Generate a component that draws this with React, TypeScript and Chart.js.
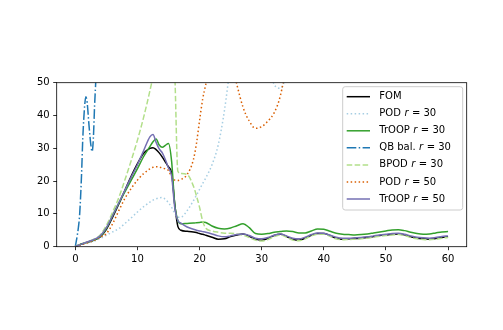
import React, { useEffect, useRef } from 'react';
import { Chart, registerables } from 'chart.js';

Chart.register(...registerables);

// shared time axis for the main series
const time = [
  0, 1, 2, 3, 4, 5, 6, 7, 8, 9, 10, 11, 12,
  12.5, 13, 13.5, 14, 14.5, 15, 15.5, 16, 16.5, 17,
  18, 19, 19.5, 20, 20.5, 21,
  22, 23, 24, 25, 26, 27, 28, 29, 30, 31, 32, 33, 34, 35, 36, 37, 38, 39, 40, 41,
  42, 43, 44, 45, 46, 47, 48, 49, 50, 51, 52, 53, 54, 55, 56, 57, 58, 59, 60,
];

const fomValues = [
  0, 0.8, 1.4, 2.0, 3.0, 5.3, 9.0, 13.0, 17.3, 21.5, 25.3, 28.5, 30.0,
  30.2, 29.6, 28.6, 27.3, 25.8, 24.3, 22.5, 13.0, 6.2, 5.0,
  4.7, 4.5, 4.3, 4.0, 3.8, 3.5,
  2.9, 2.3, 2.4, 3.1, 3.6, 3.9, 3.2, 2.3, 2.0, 2.5, 3.4, 3.8, 3.1, 2.3, 2.0, 2.6, 3.5, 4.0, 4.0, 3.4,
  2.6, 2.3, 2.4, 2.5, 2.6, 2.8, 3.1, 3.4, 3.6, 3.8, 3.9, 3.6, 3.0, 2.6, 2.4, 2.3, 2.5, 2.8, 3.0,
];

const pod30Values = [
  0, 0.6, 1.1, 1.7, 2.5, 3.5, 4.5, 5.5, 7.1, 8.8, 10.6, 12.2, 13.6,
  14.2, 14.6, 14.9, 15.0, 14.4, 13.4, 12.0, 10.2, 9.0, 9.0,
  11.0, 14.0, 15.7, 17.5, 19.3, 21.0,
  25.0, 31.0, 41.5, 56, 70, 78, 80, 78, 70, 57, 49.5, 48.3, 53, 65,
];

const troop30Values = [
  0, 0.8, 1.4, 2.0, 3.1, 5.6, 9.5, 13.3, 16.8, 20.3, 23.8, 27.5, 30.5,
  32.0, 32.8, 31.0, 30.3, 30.9, 31.5, 26.0, 13.0, 8.0, 7.0,
  7.1, 7.2, 7.3, 7.4, 7.5, 7.4,
  6.3, 5.6, 5.4, 5.7, 6.4, 7.0, 5.8, 4.0, 3.8, 4.0, 4.4, 4.6, 4.8, 4.6, 4.2, 4.2, 4.8, 5.4, 5.3, 4.7,
  4.1, 3.8, 3.7, 3.6, 3.7, 3.9, 4.2, 4.5, 4.8, 5.1, 5.2, 4.9, 4.4, 4.0, 3.8, 3.9, 4.2, 4.5, 4.6,
];

const qbTime = [0, 0.5, 0.7, 1.0, 1.2, 1.5, 1.7, 1.9, 2.2, 2.5, 2.7, 2.9, 3.1, 3.3, 3.5];
const qbValues = [0, 6, 10, 22, 33, 43, 45.7, 44, 37, 31, 29, 33, 43, 51, 62];

const bpodValues = [
  0, 0.8, 1.5, 2.3, 3.6, 6.5, 10.5, 15.0, 20.5, 26.3, 32.5, 39.5, 47.5,
  52, 58, 65, 70, 72, 70, 64, 53, 23.0, 22.3,
  22.0, 18.5, 15.5, 12.0, 7.8, 5.6,
  4.8, 4.4, 4.1, 4.1, 3.9, 3.5, 2.8, 2.0, 1.7, 2.2, 3.1, 3.6, 2.9, 2.0, 1.8, 2.4, 3.3, 3.8, 3.8, 3.2,
  2.4, 2.1, 2.2, 2.3, 2.4, 2.6, 2.9, 3.2, 3.4, 3.6, 3.7, 3.4, 2.8, 2.4, 2.2, 2.1, 2.3, 2.6, 2.8,
];

const pod50Values = [
  0, 0.6, 1.2, 1.9, 2.9, 4.0, 7.0, 11.0, 14.8, 17.8, 20.3, 22.3, 23.7,
  24.2, 24.4, 24.3, 24.0, 23.7, 23.2, 21.3, 20.3, 20.2, 20.5,
  22.0, 26.5, 31.5, 38.5, 45.0, 49.5,
  58, 64, 64, 58, 49.5, 42.5, 38.3, 36.1, 36.6, 38.3, 40.8, 46.0, 56, 70,
];

const troop50Values = [
  0, 0.8, 1.5, 2.2, 3.3, 5.8, 9.5, 13.4, 17.3, 21.2, 25.0, 29.3, 33.5,
  34.2, 31.8, 29.8, 28.6, 26.5, 24.0, 21.5, 12.0, 8.0, 7.2,
  6.0, 5.3, 5.0, 4.8, 4.6, 4.4,
  3.9, 3.3, 3.0, 3.3, 3.7, 3.9, 3.4, 2.6, 2.4, 2.8, 3.5, 3.9, 3.3, 2.6, 2.4, 2.9, 3.7, 4.2, 4.1, 3.5,
  2.9, 2.6, 2.6, 2.7, 2.8, 3.0, 3.3, 3.6, 3.8, 4.0, 4.1, 3.8, 3.3, 2.9, 2.7, 2.6, 2.8, 3.1, 3.3,
];

const xTicks = [0, 10, 20, 30, 40, 50, 60];
const yTicks = [0, 10, 20, 30, 40, 50];

const seriesNames = ['FOM', 'POD', 'TrOOP', 'QB bal.', 'BPOD', 'POD', 'TrOOP'];
const seriesRanks = ['', '30', '30', '30', '30', '50', '50'];
const seriesColors = ['#000000', '#a6cee3', '#33a02c', '#1f78b4', '#b2df8a', '#d95f02', '#7570b3'];
const seriesDashes: number[][] = [
  [],
  [1.5, 2.475],
  [],
  [9.6, 2.4, 1.5, 2.4],
  [5.55, 2.4],
  [1.5, 2.475],
  [],
];

const FONT = '"DejaVu Sans", "Liberation Sans", sans-serif';

function toPoints(ts: number[], vs: number[]) {
  return vs.map((v, i) => ({ x: ts[i], y: v }));
}

const frameAndLegend = {
  id: 'frameAndLegend',
  afterDraw(chart: any) {
    const ctx: CanvasRenderingContext2D = chart.ctx;
    const a = chart.chartArea;
    ctx.save();
    // axes frame
    ctx.strokeStyle = '#000';
    ctx.lineWidth = 0.8;
    ctx.setLineDash([]);
    ctx.strokeRect(a.left, a.top, a.right - a.left, a.bottom - a.top);

    // legend box
    const bx = a.right - 4;
    const by = a.top + 4;
    const bw = 120;
    const bh = 123.3;
    const x0 = bx - bw;
    const r = 2.5;
    ctx.beginPath();
    ctx.moveTo(x0 + r, by);
    ctx.lineTo(bx - r, by);
    ctx.quadraticCurveTo(bx, by, bx, by + r);
    ctx.lineTo(bx, by + bh - r);
    ctx.quadraticCurveTo(bx, by + bh, bx - r, by + bh);
    ctx.lineTo(x0 + r, by + bh);
    ctx.quadraticCurveTo(x0, by + bh, x0, by + bh - r);
    ctx.lineTo(x0, by + r);
    ctx.quadraticCurveTo(x0, by, x0 + r, by);
    ctx.closePath();
    ctx.fillStyle = 'rgba(255,255,255,0.8)';
    ctx.fill();
    ctx.strokeStyle = '#cccccc';
    ctx.lineWidth = 1;
    ctx.stroke();

    for (let i = 0; i < seriesNames.length; i++) {
      const cy = by + 10 + i * 17.05;
      ctx.strokeStyle = seriesColors[i];
      ctx.lineWidth = 1.5;
      ctx.setLineDash(seriesDashes[i]);
      ctx.beginPath();
      ctx.moveTo(x0 + 4, cy);
      ctx.lineTo(x0 + 27.3, cy);
      ctx.stroke();
      ctx.setLineDash([]);

      ctx.fillStyle = '#000';
      ctx.textBaseline = 'middle';
      ctx.textAlign = 'left';
      let tx = x0 + 36.6;
      if (seriesRanks[i] === '') {
        ctx.font = `10px ${FONT}`;
        ctx.fillText(seriesNames[i], tx, cy);
      } else {
        ctx.font = `10px ${FONT}`;
        const pre = seriesNames[i] + ' ';
        ctx.fillText(pre, tx, cy);
        tx += ctx.measureText(pre).width + 0.3;
        ctx.font = `italic 10px ${FONT}`;
        ctx.fillText('r', tx, cy);
        tx += ctx.measureText('r').width + 3.4;
        ctx.font = `10px ${FONT}`;
        ctx.fillText('=', tx, cy);
        tx += ctx.measureText('=').width + 3.2;
        ctx.fillText(seriesRanks[i], tx, cy);
      }
    }
    ctx.restore();
  },
};

export default function App() {
  const canvasRef = useRef<HTMLCanvasElement | null>(null);

  useEffect(() => {
    const canvas = canvasRef.current;
    if (!canvas) return;

    const allData = [
      toPoints(time, fomValues),
      toPoints(time, pod30Values),
      toPoints(time, troop30Values),
      toPoints(qbTime, qbValues),
      toPoints(time, bpodValues),
      toPoints(time, pod50Values),
      toPoints(time, troop50Values),
    ];

    const datasets = allData.map((d, i) => ({
      label: seriesRanks[i] ? `${seriesNames[i]} r = ${seriesRanks[i]}` : seriesNames[i],
      data: d,
      borderColor: seriesColors[i],
      backgroundColor: seriesColors[i],
      borderWidth: 1.5,
      borderDash: seriesDashes[i],
      pointRadius: 0,
      fill: false,
      cubicInterpolationMode: 'monotone' as const,
      order: allData.length - i,
    }));

    const chart = new Chart(canvas, {
      type: 'line',
      data: { datasets },
      plugins: [frameAndLegend],
      options: {
        animation: false,
        responsive: false,
        devicePixelRatio: 1,
        layout: { padding: { top: 82.7, right: 36.3, left: 0, bottom: 0 } },
        elements: { line: { capBezierPoints: false } },
        plugins: {
          legend: { display: false },
          tooltip: { enabled: false },
          title: { display: false },
        },
        scales: {
          x: {
            type: 'linear',
            min: -3,
            max: 63,
            afterFit: (s: any) => { s.height = 330 - 246.7; },
            afterBuildTicks: (s: any) => { s.ticks = xTicks.map((v) => ({ value: v })); },
            grid: { drawOnChartArea: false, drawTicks: true, tickLength: 3.5, color: '#000', lineWidth: 0.8 },
            border: { display: false },
            ticks: { color: '#000', font: { family: FONT, size: 10 }, padding: 3.5, maxRotation: 0 },
          },
          y: {
            type: 'linear',
            min: 0,
            max: 50,
            afterFit: (s: any) => { s.width = 56.7; },
            afterBuildTicks: (s: any) => { s.ticks = yTicks.map((v) => ({ value: v })); },
            grid: { drawOnChartArea: false, drawTicks: true, tickLength: 3.5, color: '#000', lineWidth: 0.8 },
            border: { display: false },
            ticks: { color: '#000', font: { family: FONT, size: 10 }, padding: 3.5 },
          },
        },
      },
    });
    return () => chart.destroy();
  }, []);

  return (
    <div style={{ position: 'fixed', left: 0, top: 0, width: 503, height: 330, background: '#fff' }}>
      <canvas ref={canvasRef} width={503} height={330} style={{ width: 503, height: 330, display: 'block' }} />
    </div>
  );
}
